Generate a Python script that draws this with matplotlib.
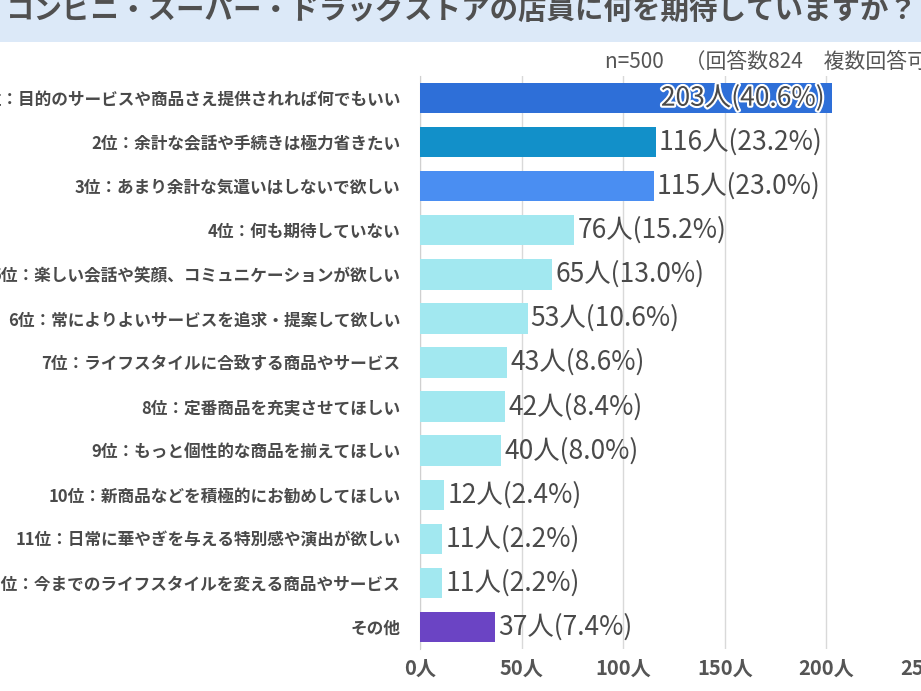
import matplotlib
matplotlib.use('Agg')
import matplotlib.pyplot as plt
import matplotlib.patheffects as pe
from matplotlib.patches import Rectangle

plt.rcParams['font.family'] = ['Noto Sans CJK JP', 'DejaVu Sans']

TITLE = 'コンビニ・スーパー・ドラッグストアの店員に何を期待していますか？'
NOTE = 'n=500　（回答数824　複数回答可）'

labels = [
    '1位：目的のサービスや商品さえ提供されれば何でもいい',
    '2位：余計な会話や手続きは極力省きたい',
    '3位：あまり余計な気遣いはしないで欲しい',
    '4位：何も期待していない',
    '5位：楽しい会話や笑顔、コミュニケーションが欲しい',
    '6位：常によりよいサービスを追求・提案して欲しい',
    '7位：ライフスタイルに合致する商品やサービス',
    '8位：定番商品を充実させてほしい',
    '9位：もっと個性的な商品を揃えてほしい',
    '10位：新商品などを積極的にお勧めしてほしい',
    '11位：日常に華やぎを与える特別感や演出が欲しい',
    '12位：今までのライフスタイルを変える商品やサービス',
    'その他',
]
counts = [203, 116, 115, 76, 65, 53, 43, 42, 40, 12, 11, 11, 37]
percents = ['40.6', '23.2', '23.0', '15.2', '13.0', '10.6', '8.6', '8.4',
            '8.0', '2.4', '2.2', '2.2', '7.4']
xticks = [0, 50, 100, 150, 200, 250]

colors = ['#2e6fd8', '#1290c9', '#4a8ef2'] + ['#a2e8f0'] * 9 + ['#6b44c4']
text_color = '#4a4a4a'

W, H = 921, 691
fig = plt.figure(figsize=(W / 100, H / 100), dpi=100)

# title band
fig.patches.append(Rectangle((0, 1 - 42 / H), 1, 42 / H, transform=fig.transFigure,
                             facecolor='#dce9f8', edgecolor='none', zorder=0))
fig.text(462 / W, 1 - 11 / H, TITLE, ha='center', va='center', fontsize=20.5,
         fontweight='bold', color='#505050')
fig.text(605 / W, 1 - 62 / H, NOTE, ha='left', va='center', fontsize=15,
         color='#555555')

ax = fig.add_axes([420 / W, 1 - 649 / H, 508 / W, 573 / H])
y = list(range(len(counts)))
ax.barh(y, counts, height=0.69, color=colors, zorder=3)
ax.set_ylim(len(counts) - 0.5, -0.5)
ax.set_xlim(0, 250)

ax.set_yticks(y)
ax.set_yticklabels(labels, fontsize=12, fontweight='bold', color=text_color)
ax.tick_params(axis='y', length=0, pad=14)
ax.set_xticks(xticks)
ax.set_xticklabels([f'{t}人' for t in xticks], fontsize=14.5, fontweight='bold',
                   color='#555555')
ax.tick_params(axis='x', length=0, pad=6)

ax.grid(True, axis='x', color='#d9d9d9', linewidth=1, zorder=0)
for s in ['top', 'right', 'bottom']:
    ax.spines[s].set_visible(False)
ax.spines['left'].set_color('#d0d0d0')

for i, (c, p) in enumerate(zip(counts, percents)):
    txt = f'{c}人({p}%)'
    if i == 0:
        ax.text(c - 4, i, txt, ha='right', va='center', fontsize=19,
                color=text_color, zorder=4,
                path_effects=[pe.withStroke(linewidth=3, foreground='white')])
    else:
        ax.text(c + 1.5, i, txt, ha='left', va='center', fontsize=19,
                color=text_color, zorder=4)

fig.savefig('out.png', dpi=100)
